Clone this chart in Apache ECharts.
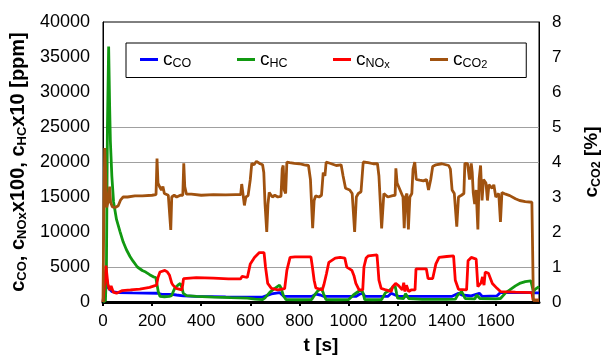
<!DOCTYPE html>
<html><head><meta charset="utf-8">
<script src="https://cdn.jsdelivr.net/npm/echarts@6/dist/echarts.min.js"></script>
<style>html,body{margin:0;padding:0;background:#fff}#c{width:611px;height:360px}</style>
</head><body><div id="c"></div>
<script>
// time [s] and values
const coT  = [0,8,12,16,22,36,63,120,221,240,280,300,327,380,500,588,650,686,719,737,850,867,885,900,1030,1045,1057,1068,1160,1174,1190,1205,1420,1448,1462,1500,1533,1545,1605,1619,1747,1760,1776];
const coV  = [0,200,3500,3100,2000,1490,1350,1300,1250,1100,1100,1000,880,790,720,700,700,1160,1350,790,790,1115,1000,790,790,1100,1250,790,790,1250,1000,790,790,1250,1000,880,1250,790,880,1350,1350,1300,1300];

const hcT  = [0,10,14,18,23,27,30,36,43,55,69,82,95,110,121,140,160,174,190,205,215,220,225,232,250,270,279,292,305,315,322,327,340,380,450,520,588,620,650,660,680,700,719,725,735,745,800,850,860,875,890,898,908,950,1001,1020,1040,1054,1060,1066,1100,1135,1150,1165,1180,1190,1196,1200,1225,1232,1238,1245,1252,1300,1400,1435,1445,1461,1468,1475,1515,1522,1527,1535,1600,1619,1640,1657,1680,1697,1720,1743,1750,1753,1760,1776];
const hcV  = [0,200,5000,25000,36500,28000,23000,18000,14300,11800,10100,8600,7500,6500,5900,5000,4500,4280,3900,3600,3500,3300,1500,800,750,800,900,1950,2400,2650,2000,1250,900,800,700,620,560,400,350,600,1400,1950,2400,2000,900,350,320,350,900,1600,1950,1200,350,320,350,1000,1500,1720,1200,350,320,350,1300,1600,2100,2300,1200,560,500,1200,1250,500,400,380,380,400,1000,1490,1300,500,450,1000,1250,500,450,500,1300,1720,2300,2650,2900,3020,3000,1500,1800,2200];

const noxT = [0,8,12,16,20,27,33,37,42,55,63,79,112,150,190,218,224,232,240,252,262,271,280,285,298,321,325,328,380,450,511,560,567,575,588,595,600,617,637,656,662,671,686,712,740,749,762,782,847,853,860,867,893,900,910,920,946,966,985,993,1014,1022,1030,1043,1058,1063,1072,1081,1116,1120,1124,1133,1153,1174,1180,1192,1205,1212,1219,1225,1230,1236,1245,1255,1271,1275,1300,1317,1324,1343,1356,1369,1400,1428,1435,1448,1481,1487,1500,1520,1527,1540,1546,1552,1557,1570,1586,1605,1619,1680,1747,1752,1776];
const noxV = [0,200,5200,5200,2500,1700,2300,2200,1400,1250,1250,1630,1720,1850,2090,2400,3500,4280,4500,4510,4300,3810,2700,2410,1950,1720,2500,3350,3480,3400,3300,3300,3670,3450,3500,3600,5440,6370,7060,7060,5000,2650,1950,1720,1900,4510,6370,6450,6450,5000,3110,2000,1720,2500,4000,5670,6270,6370,6270,4980,4510,3800,2650,1720,1720,5000,6300,6600,6740,5000,3110,1950,1720,1500,2190,2650,2300,2190,1720,2740,1500,2400,1490,1720,1720,4740,4740,4740,3350,3350,5440,6370,6500,6600,3110,1810,1720,5900,6370,6130,2190,2740,3580,2400,4280,4100,2650,1950,1490,1420,1350,300,250];

const co2T = [0,4,7,11,15,22,27,31,38,50,62,72,82,100,130,160,200,216,220,224,230,238,244,250,258,266,272,276,280,290,300,315,325,329,333,340,360,400,450,500,540,561,565,570,576,582,591,600,606,615,625,640,650,655,660,667,672,677,690,700,712,725,730,734,738,744,749,760,780,800,820,837,845,854,860,866,880,890,897,904,909,930,950,970,978,988,995,1005,1015,1025,1032,1040,1051,1060,1080,1100,1118,1124,1135,1144,1160,1180,1190,1193,1198,1210,1222,1227,1232,1238,1244,1250,1258,1263,1270,1276,1290,1305,1318,1326,1335,1343,1356,1380,1408,1415,1422,1431,1441,1448,1460,1470,1474,1485,1493,1500,1504,1508,1514,1520,1527,1532,1538,1544,1550,1560,1566,1572,1585,1592,1600,1612,1619,1625,1640,1657,1680,1697,1720,1747,1750,1753,1776];
const co2V = [0,3.0,4.4,3.6,2.7,2.9,3.3,2.85,2.72,2.7,2.75,2.92,3.0,3.0,3.03,3.03,3.05,3.07,4.1,3.4,3.3,3.2,3.3,3.1,3.15,3.05,3.0,2.06,3.0,3.05,3.0,3.05,3.05,3.96,3.3,3.08,3.08,3.05,3.07,3.06,3.07,3.07,3.37,3.1,2.76,3.0,3.04,3.5,3.96,3.92,4.02,3.95,3.92,3.7,2.8,2.0,2.8,3.13,3.0,3.05,3.0,3.02,3.8,3.9,3.2,3.1,4.0,3.98,3.96,3.95,3.92,3.9,3.5,2.11,2.9,3.03,3.0,3.05,3.7,3.6,4.0,3.95,3.9,3.92,3.6,3.25,3.3,3.2,3.1,2.0,3.0,3.1,3.15,4.0,3.98,3.95,3.95,3.6,2.1,3.1,3.0,3.04,3.05,3.82,3.4,3.2,3.0,2.11,3.0,3.1,2.07,3.0,3.1,3.8,4.0,3.5,3.48,3.46,3.5,3.2,3.5,3.87,3.92,3.95,3.9,3.8,3.2,3.1,2.15,3.0,3.05,3.1,3.96,3.95,3.5,3.96,3.7,3.13,2.8,3.2,2.07,3.5,3.9,2.9,3.5,3.4,2.9,3.35,3.25,3.35,3.0,3.1,2.29,3.13,3.08,3.04,2.95,2.9,2.87,2.85,1.5,0.05,0.05];

const xTicks = {min: 0, max: 1776, step: 200};
const yLeft  = {min: 0, max: 40000, step: 5000};
const yRight = {min: 0, max: 8, step: 1};
const names  = ['cCO', 'cHC', 'cNOx', 'cCO2'];
const colors = ['#0000ff', '#119911', '#ff0000', '#a0520f'];

const zip = (t, v) => t.map((x, i) => [x, v[i]]);
const FF = "'Liberation Sans Narrow','Arial Narrow','Liberation Sans',Arial,sans-serif";
const legendRich = {
  m: {fontFamily: FF, fontSize: 19, lineHeight: 22, color: '#000'},
  s: {fontFamily: FF, fontSize: 12.5, lineHeight: 10, verticalAlign: 'bottom', color: '#000'},
  ss: {fontFamily: FF, fontSize: 11, lineHeight: 5, verticalAlign: 'bottom', color: '#000'}
};
const legendFmt = {
  cCO: '{m|c}{s|CO}', cHC: '{m|c}{s|HC}', cNOx: '{m|c}{s|NO}{ss|x}', cCO2: '{m|c}{s|CO}{ss|2}'
};
const legendLeft = [140, 237, 333, 430];
const legends = names.map((n, i) => ({
  data: [n], left: i === 0 ? 126 : legendLeft[i], top: i === 0 ? 43 : 50,
  icon: 'rect', itemWidth: 18, itemHeight: 3, selectedMode: false, z: i === 0 ? 4 : 6,
  padding: i === 0 ? [7, 335, 7, 14] : 0,
  backgroundColor: i === 0 ? '#fff' : 'transparent',
  borderColor: '#000', borderWidth: i === 0 ? 1 : 0,
  formatter: nm => legendFmt[nm],
  textStyle: {rich: legendRich}
}));
const plain = v => String(v);

const chart = echarts.init(document.getElementById('c'));
chart.setOption({
  animation: false,
  textStyle: {fontFamily: FF},
  grid: {left: 103, right: 58, top: 22, bottom: 51, show: true, borderColor: '#000', borderWidth: 1, backgroundColor: 'transparent'},
  legend: legends,
  xAxis: {
    type: 'value', min: xTicks.min, max: xTicks.max, interval: xTicks.step,
    name: 't [s]', nameLocation: 'middle', nameGap: 34,
    nameTextStyle: {fontFamily: FF, fontSize: 19, fontWeight: 'bold', color: '#000'},
    axisLine: {show: true, lineStyle: {color: '#000', width: 3}},
    axisTick: {show: true, length: 4, lineStyle: {color: '#000', width: 2}},
    axisLabel: {fontFamily: FF, fontSize: 17, color: '#000', margin: 11, showMaxLabel: false, formatter: plain},
    splitLine: {show: false}
  },
  yAxis: [{
    type: 'value', min: yLeft.min, max: yLeft.max, interval: yLeft.step,
    name: '{m|c}{s|CO}{m|, c}{s|NOx}{m|x100, c}{s|HC}{m|x10 [ppm]}',
    nameLocation: 'middle', nameGap: 68, nameRotate: 90,
    nameTextStyle: {rich: {
      m: {fontFamily: FF, fontSize: 20, fontWeight: 'bold', lineHeight: 22, color: '#000'},
      s: {fontFamily: FF, fontSize: 13, fontWeight: 'bold', lineHeight: 10, verticalAlign: 'bottom', color: '#000'}
    }},
    axisLine: {show: true, lineStyle: {color: '#000', width: 1}},
    axisTick: {show: false},
    axisLabel: {fontFamily: FF, fontSize: 18, color: '#000', margin: 13, formatter: plain},
    splitLine: {show: true, lineStyle: {color: ['transparent', '#a0a0a0', 'transparent', 'transparent', '#a0a0a0', '#a0a0a0', 'transparent', 'transparent', 'transparent'], width: 1.2}}
  }, {
    type: 'value', min: yRight.min, max: yRight.max, interval: yRight.step, position: 'right',
    name: '{m|c}{s|CO2}{m| [%]}',
    nameLocation: 'middle', nameGap: 42, nameRotate: 90,
    nameTextStyle: {rich: {
      m: {fontFamily: FF, fontSize: 19, fontWeight: 'bold', lineHeight: 22, color: '#000'},
      s: {fontFamily: FF, fontSize: 12.5, fontWeight: 'bold', lineHeight: 10, verticalAlign: 'bottom', color: '#000'}
    }},
    axisLine: {show: true, lineStyle: {color: '#000', width: 1}},
    axisTick: {show: false},
    axisLabel: {fontFamily: FF, fontSize: 17, color: '#000', margin: 13, formatter: plain},
    splitLine: {show: false}
  }],
  series: [
    {name: names[0], type: 'line', data: zip(coT, coV), yAxisIndex: 0, color: colors[0]},
    {name: names[1], type: 'line', data: zip(hcT, hcV), yAxisIndex: 0, color: colors[1]},
    {name: names[2], type: 'line', data: zip(noxT, noxV), yAxisIndex: 0, color: colors[2]},
    {name: names[3], type: 'line', data: zip(co2T, co2V), yAxisIndex: 1, color: colors[3]}
  ].map(s => Object.assign(s, {showSymbol: false, symbol: 'none', lineStyle: {width: 2.8, color: s.color}}))
});
</script></body></html>
